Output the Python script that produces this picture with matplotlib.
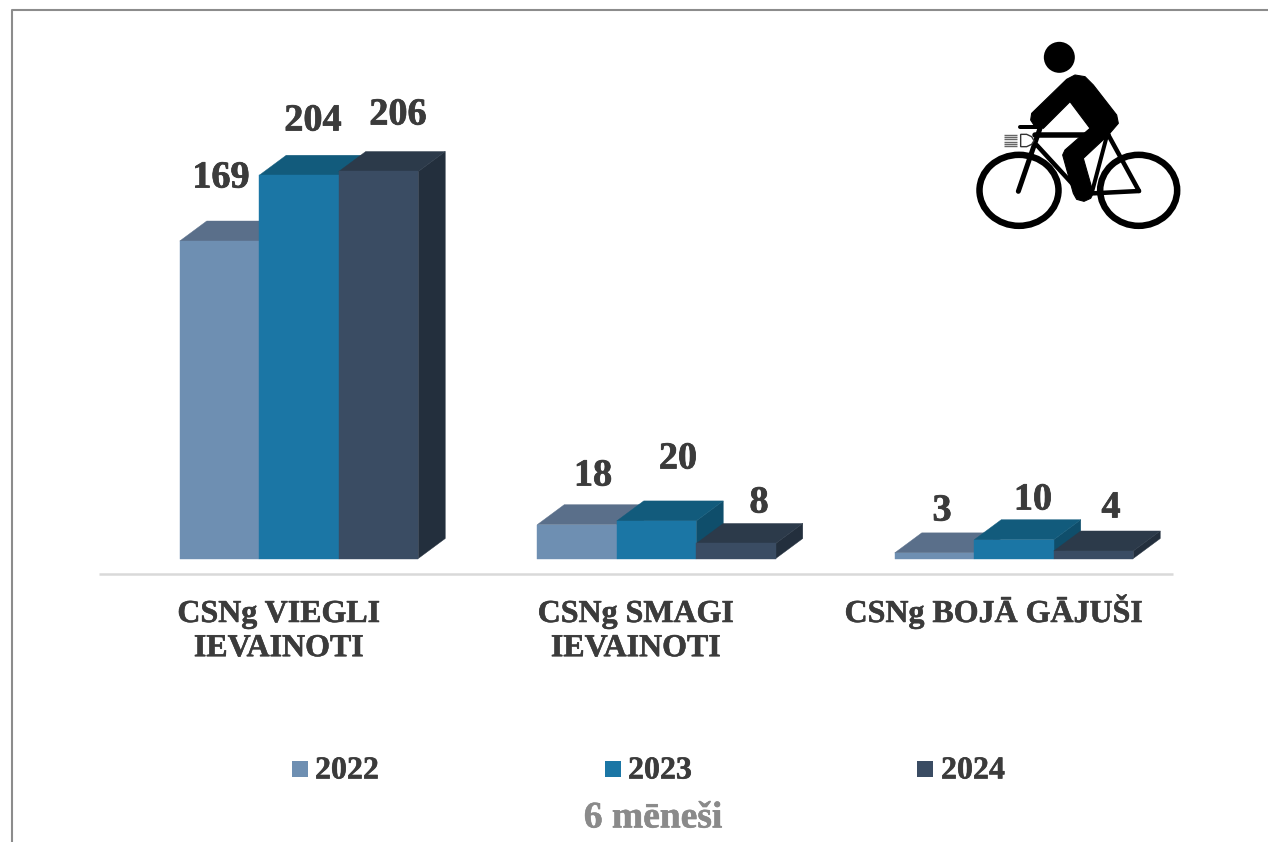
import matplotlib
matplotlib.use("Agg")
import matplotlib.pyplot as plt
import matplotlib.patheffects as pe
from matplotlib.patches import Polygon, Ellipse, Rectangle

categories = ["CSNg VIEGLI\nIEVAINOTI", "CSNg SMAGI\nIEVAINOTI", "CSNg BOJĀ GĀJUŠI"]
years = ["2022", "2023", "2024"]
v2022 = [169, 18, 3]
v2023 = [204, 20, 10]
v2024 = [206, 8, 4]
series = [v2022, v2023, v2024]
title = "6 mēneši"

front = ["#6E8FB2", "#1B76A5", "#3A4C63"]
top = ["#5A6F8A", "#125B7C", "#2C3A4A"]
side = ["#4C5F78", "#0F4E6B", "#232F3D"]
TXT = "#3B3B3B"

W, H = 1268, 842
plt.rcParams["font.family"] = ["Liberation Serif", "DejaVu Serif"]
fig = plt.figure(figsize=(W / 100, H / 100), dpi=100, facecolor="white")

# chart axes: x in category units, y in value units
X0, XU = 299.0, 357.5
Y0, YU = 558.5, 387.0 / 206.0
ax = fig.add_axes([0, 0, 1, 1])
ax.set_xlim(-X0 / XU, (W - X0) / XU)
ax.set_ylim(-(H - Y0) / YU, Y0 / YU)
ax.axis("off")

bw = 79.5 / XU
dx = 27.0 / XU
dy = 20.0 / YU
for s, vals in enumerate(series):
    for c, v in enumerate(vals):
        l = c + (s - 1.5) * bw
        r = l + bw
        ax.add_patch(Polygon([(r, 0), (r + dx, dy), (r + dx, v + dy), (r, v)],
                             fc=side[s], ec=side[s], lw=0.3, zorder=2 + s))
        ax.add_patch(Polygon([(l, v), (r, v), (r + dx, v + dy), (l + dx, v + dy)],
                             fc=top[s], ec=top[s], lw=0.3, zorder=2 + s))
        ax.add_patch(Rectangle((l, 0), bw, v, fc=front[s], ec=front[s], lw=0.3, zorder=2 + s))

# overlay in pixel coordinates for layout furniture
ov = fig.add_axes([0, 0, 1, 1], facecolor="none")
ov.set_xlim(0, W)
ov.set_ylim(H, 0)
ov.axis("off")

# frame and baseline
ov.plot([12, 12, 1268], [H, 9.5, 9.5], color="#8C8C8C", lw=1.5, solid_capstyle="butt", zorder=1)
ov.plot([99, 1173], [574, 574], color="#D9D9D9", lw=1.8, solid_capstyle="butt", zorder=1)


def bold(color, w=0.55):
    return [pe.withStroke(linewidth=w, foreground=color)]


# value labels
label_px = [[(221, 178), (593, 476), (942, 511)],
            [(313, 121), (678, 459), (1033, 500)],
            [(398, 115), (759, 503), (1111, 508)]]
for s, vals in enumerate(series):
    for c, v in enumerate(vals):
        x, y = label_px[s][c]
        ov.text(x, y, str(v), ha="center", va="center", fontsize=27.5, fontweight="bold",
                color=TXT, zorder=10, path_effects=bold(TXT))

# category labels
cat_px = [(279, 600), (636, 600), (994, 594)]
for (x, y), t in zip(cat_px, categories):
    ov.text(x, y, t, ha="center", va="top", fontsize=23, fontweight="bold", color=TXT,
            linespacing=1.235, zorder=10, path_effects=bold(TXT, 0.4))

# legend
leg_px = [(292, 315), (605, 628), (917, 941)]
for s, (xs, xt) in enumerate(leg_px):
    ov.add_patch(Rectangle((xs, 761), 16, 16, fc=front[s], ec="none"))
    ov.text(xt, 771, years[s], ha="left", va="center", fontsize=23, fontweight="bold",
            color=TXT, path_effects=bold(TXT, 0.4))
ov.text(653, 818, title, ha="center", va="center", fontsize=27, fontweight="bold",
        color="#8A8A8A", path_effects=bold("#8A8A8A", 0.4))


# cyclist icon, traced in a local 3x grid
def ix(p):
    return (960 + p[0] / 3, 30 + p[1] / 3)


def ln(pts, w, cap="round", color="black", z=6):
    xs, ys = zip(*[ix(p) for p in pts])
    ov.plot(xs, ys, color=color, lw=w * 0.72, solid_capstyle=cap, solid_joinstyle="round", zorder=z)


ov.add_patch(Ellipse(ix((298, 82)), 31, 31, fc="black", ec="none", zorder=6))
for c, wd in (((177, 481), 79), ((536, 481), 77)):
    ov.add_patch(Ellipse(ix(c), wd, 71, fc="none", ec="black", lw=6.5 * 0.72, zorder=6))
# frame
ln([(175, 484), (240, 295)], 5)
ln([(180, 292), (240, 292)], 4)
ln([(225, 315), (445, 315)], 5.5)
ln([(230, 345), (345, 470)], 4.5)
ln([(445, 315), (537, 483)], 4.5)
ln([(537, 483), (400, 490)], 4.5)
ln([(440, 320), (395, 490)], 4)
# rider
ov.add_patch(Polygon([ix(p) for p in [
    (345, 135), (375, 140), (400, 165), (470, 255), (475, 280), (445, 315), (370, 385),
    (400, 490), (392, 505), (372, 514), (350, 508), (340, 490), (308, 375), (315, 360), (355, 325),
    (390, 295), (330, 215), (250, 295), (225, 290), (212, 270), (215, 250), (320, 148)]],
    fc="black", ec="black", lw=0.8, joinstyle="round", zorder=6))
# head lamp
ov.add_patch(Polygon([ix(p) for p in [(182, 313), (200, 313), (215, 320), (222, 332), (215, 343),
                                      (200, 350), (182, 350)]],
                     fc="white", ec="#333333", lw=1.0, zorder=7))
for yy in (314, 321, 328, 335, 342, 349):
    ln([(133, yy), (172, yy)], 1.4, cap="butt", color="#666666")

fig.savefig("out.png", dpi=100, facecolor="white")
